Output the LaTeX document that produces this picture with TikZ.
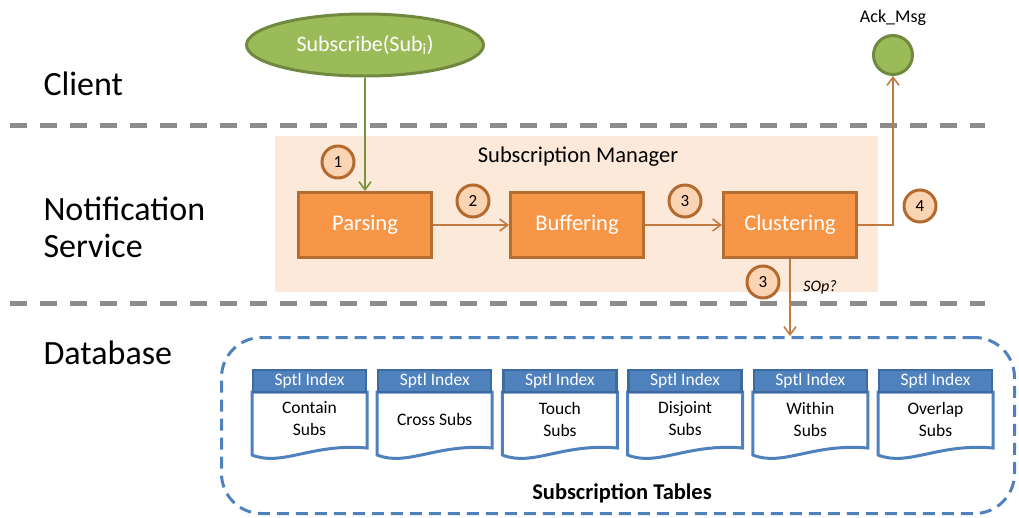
\documentclass[tikz,border=0pt]{standalone}
\usepackage{fontspec}
\setmainfont{Carlito}
\usetikzlibrary{arrows.meta, positioning, shapes.geometric}
\definecolor{leafgreen}{HTML}{9BBB59}
\definecolor{leafedge}{HTML}{71893F}
\definecolor{leafline}{HTML}{77933C}
\definecolor{stagefill}{HTML}{F79646}
\definecolor{stageedge}{HTML}{B66D31}
\definecolor{mgrbg}{HTML}{FDE9D9}
\definecolor{markfill}{HTML}{FBD4B4}
\definecolor{markedge}{HTML}{B46A2E}
\definecolor{flowline}{HTML}{C07B42}
\definecolor{sepgray}{HTML}{8C8C8C}
\definecolor{dbblue}{HTML}{4F81BD}
\definecolor{hdredge}{HTML}{3D6AA0}
\begin{document}
\begin{tikzpicture}[x=1pt, y=-1pt,
    lane/.style={anchor=west, align=left, font=\fontsize{34}{37}\selectfont},
    stage/.style={draw=stageedge, line width=3pt, fill=stagefill, text=white,
        minimum width=133pt, minimum height=65pt, font=\fontsize{22.5}{26}\selectfont},
    stepmark/.style={circle, draw=markedge, line width=3pt, fill=markfill,
        minimum size=32pt, inner sep=0pt, font=\fontsize{17}{19}\selectfont},
    gline/.style={draw=leafline, line width=1.6pt, -{Straight Barb[length=8pt,width=12pt]}},
    bline/.style={draw=flowline, line width=1.6pt, -{Straight Barb[length=8pt,width=12pt]}},
    sep/.style={draw=sepgray, line width=5pt, dash pattern=on 17pt off 13pt},
    hdr/.style={draw=hdredge, line width=2.5pt, fill=dbblue, text=white,
        minimum width=113pt, minimum height=22pt, inner sep=0pt, font=\fontsize{17.5}{20}\selectfont},
    docbody/.style={draw=dbblue, line width=3pt, fill=white},
    doctext/.style={align=center, font=\fontsize{17.5}{22}\selectfont}]
  \useasboundingbox (0,0) rectangle (1019,517);

  % lanes
  \draw[sep] (10,125) -- (985,125);
  \draw[sep] (10,303) -- (985,303);
  \node[lane] (client) at (40,84) {Client};
  \node[lane] (notif) at (40,227) {Notification\\Service};
  \node[lane] (dbl) at (40,353) {Database};

  % subscription manager
  \node[fill=mgrbg, minimum width=603pt, minimum height=156pt, inner sep=0pt] (mgr) at (576.5,213.5) {};
  \node[font=\fontsize{22.5}{26}\selectfont] (mgrtitle) at (578,157) {Subscription Manager};

  \node[ellipse, draw=leafedge, line width=3pt, fill=leafgreen, text=white,
        minimum width=237pt, minimum height=62pt, font=\fontsize{22}{26}\selectfont]
        (sub) at (365,45) {Subscribe(Sub\textsubscript{i})};
  \node[circle, draw=leafedge, line width=3pt, fill=leafgreen, minimum size=39pt] (ack) at (893,55) {};
  \node[font=\fontsize{18}{20}\selectfont] (acklbl) at (893,18) {Ack\_Msg};

  \node[stage] (prs) at (365,225) {Parsing};
  \node[stage] (buf) at (577,225) {Buffering};
  \node[stage] (clu) at (790,225) {Clustering};

  \node[stepmark] (s1) at (338,162) {1};
  \node[stepmark] (s2) at (473,201) {2};
  \node[stepmark] (s3) at (685,201) {3};
  \node[stepmark] (s4) at (920,206) {4};
  \node[stepmark] (s5) at (763,282) {3};
  \node[font=\itshape\fontsize{16}{18}\selectfont] (sop) at (820,287) {SOp?};

  % database
  \node[draw=dbblue, line width=3pt, dash pattern=on 12pt off 7pt, rounded corners=40pt,
        minimum width=793pt, minimum height=176pt] (db) at (618,425.5) {};
  \foreach \i/\txt in {1/{Contain\\Subs}, 2/{Cross Subs}, 3/{Touch\\Subs},
                       4/{Disjoint\\Subs}, 5/{Within\\Subs}, 6/{Overlap\\Subs}} {
    \pgfmathsetmacro{\l}{252+125.2*(\i-1)}
    \pgfmathsetmacro{\r}{\l+115}
    \draw[docbody] (\l,392) -- (\l,455) .. controls (\l+30,467) and (\l+60,443) .. (\r,448) -- (\r,392) -- cycle;
    \node[hdr] (h\i) at (\l+57.5,381) {Sptl Index};
    \node[doctext] (t\i) at (\l+57.5,419) {\txt};
  }
  \node[font=\bfseries\fontsize{22.5}{26}\selectfont] (tables) at (622,493) {Subscription Tables};

  % connectors
  \draw[gline] (sub.south) -- (prs.north);
  \draw[bline] (prs) -- (buf);
  \draw[bline] (buf) -- (clu);
  \draw[bline] (clu.east) -| (ack.south);
  \draw[bline] (clu.south) -- (clu.south |- db.north);
\end{tikzpicture}
\end{document}
